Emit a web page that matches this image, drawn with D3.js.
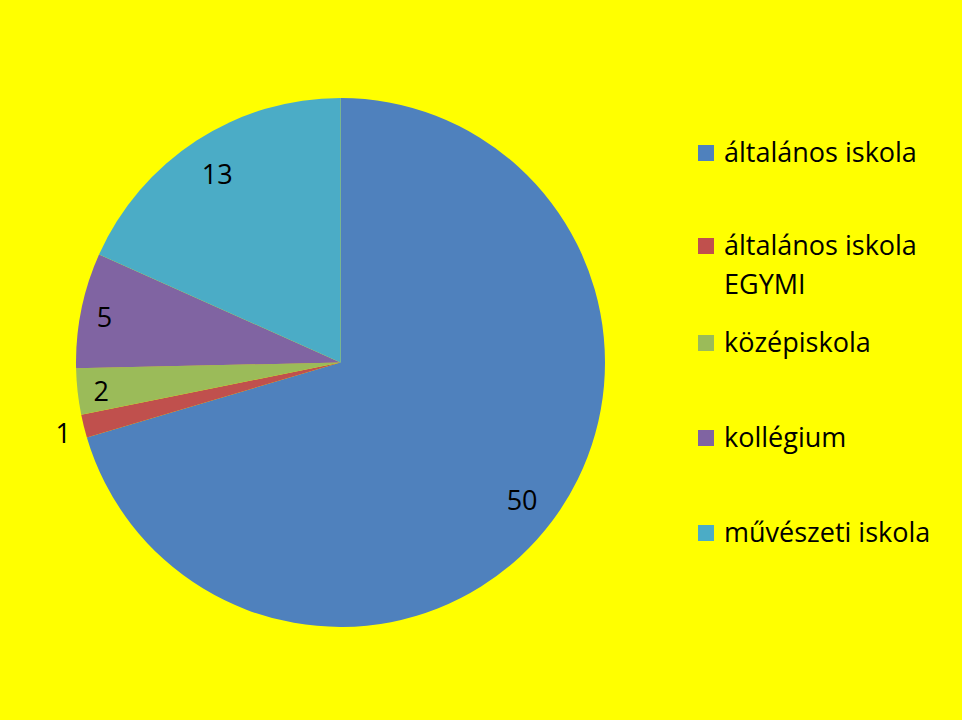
<!DOCTYPE html>
<html>
<head>
<meta charset="utf-8">
<script src="https://cdn.jsdelivr.net/npm/d3@7"></script>
<style>
  html, body { margin: 0; padding: 0; background: #ffff00; }
  svg { display: block; }
</style>
</head>
<body>
<div id="chart"></div>
<script>
// categories and values
var categories = ["általános iskola", "általános iskola EGYMI", "középiskola", "kollégium", "művészeti iskola"];
var legendLines = [["általános iskola"], ["általános iskola", "EGYMI"], ["középiskola"], ["kollégium"], ["művészeti iskola"]];
var values = [50, 1, 2, 5, 13];
var colors = ["#4f81bd", "#c0504d", "#9bbb59", "#8064a2", "#4bacc6"];

var width = 962, height = 720;
var cx = 340.5, cy = 362.5, radius = 264.5;
var font = "'Open Sans', Lato, sans-serif";

var svg = d3.select("#chart").append("svg")
    .attr("width", width)
    .attr("height", height);

svg.append("rect")
    .attr("width", width)
    .attr("height", height)
    .attr("fill", "#ffff00");

var color = d3.scaleOrdinal().domain(categories).range(colors);

var pie = d3.pie().sort(null).value(function(d) { return d.value; });
var arc = d3.arc().innerRadius(0).outerRadius(radius);

var data = categories.map(function(c, i) { return {name: c, value: values[i]}; });

var g = svg.append("g").attr("transform", "translate(" + cx + "," + cy + ")");

var slices = g.selectAll(".slice")
    .data(pie(data))
    .enter()
    .append("g")
    .attr("class", "slice");

slices.append("path")
    .attr("d", arc)
    .attr("fill", function(d) { return color(d.data.name); });

// labels: inside near the rim, small slices pushed outward
function labelRadius(d) {
    var span = d.endAngle - d.startAngle;
    if (span < 0.1) return radius * 1.08;
    if (span < 0.5) return radius * 0.91;
    return radius * 0.857;
}

slices.append("text")
    .attr("transform", function(d) {
        var a = (d.startAngle + d.endAngle) / 2;
        var r = labelRadius(d);
        return "translate(" + (r * Math.sin(a)) + "," + (-r * Math.cos(a)) + ")";
    })
    .attr("dy", "0.45em")
    .style("text-anchor", "middle")
    .attr("font-family", font)
    .attr("font-size", 27)
    .attr("fill", "#000")
    .text(function(d) { return d.data.value; });

// legend
var legend = svg.append("g").attr("transform", "translate(698,0)");
var rowY = [162, 255, 352, 447, 542];

var item = legend.selectAll(".item")
    .data(categories)
    .enter()
    .append("g")
    .attr("class", "item")
    .attr("transform", function(d, i) { return "translate(0," + rowY[i] + ")"; });

item.append("rect")
    .attr("x", 0)
    .attr("y", -17)
    .attr("width", 16)
    .attr("height", 16)
    .attr("fill", function(d) { return color(d); });

item.append("text")
    .attr("font-family", font)
    .attr("font-size", 27)
    .attr("fill", "#000")
    .each(function(d, i) {
        var t = d3.select(this);
        legendLines[i].forEach(function(line, j) {
            t.append("tspan")
                .attr("x", 26)
                .attr("y", j * 39)
                .text(line);
        });
    });
</script>
</body>
</html>
